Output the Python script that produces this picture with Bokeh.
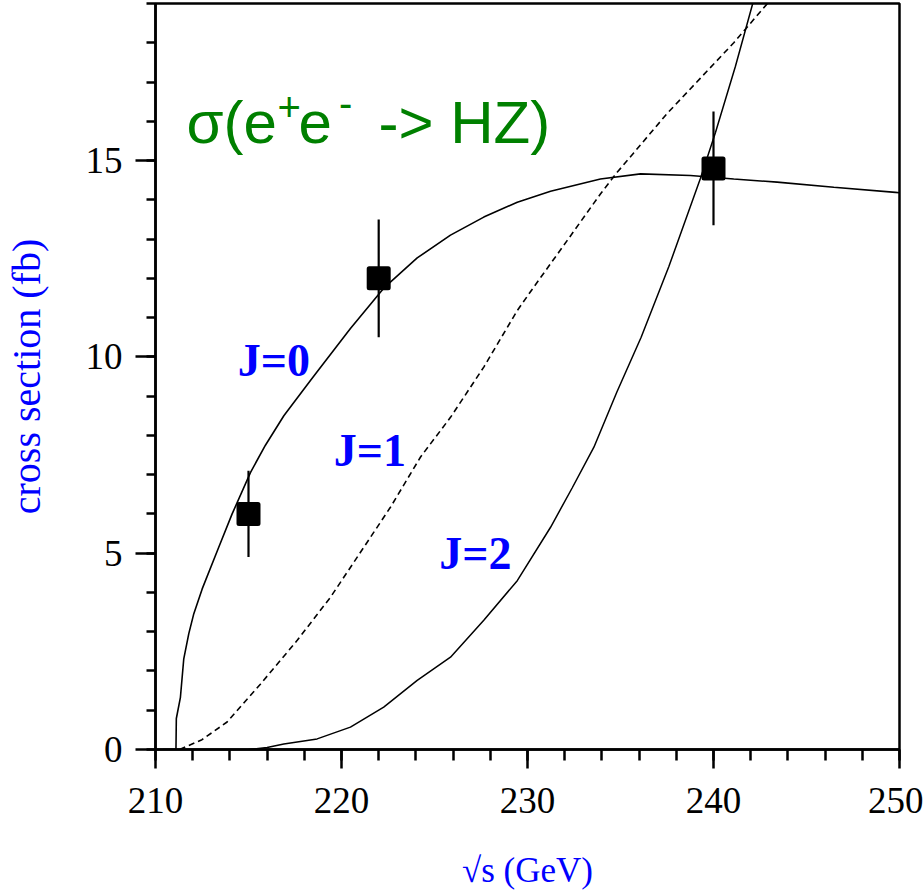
from bokeh.plotting import figure
from bokeh.models import Range1d, SingleIntervalTicker, ColumnDataSource
from bokeh.embed import file_html
from bokeh.resources import INLINE
from bokeh.core.properties import value

# ---- data ----
# measured cross sections (fb) at sqrt(s) (GeV)
pt_x = [215.0, 222.0, 240.0]
pt_y = [6.0, 12.0, 14.8]
pt_err = [1.1, 1.5, 1.45]

# J=0 (solid)
j0_x = [210.4, 211.1, 211.12, 211.34, 211.52, 211.79, 212.06, 212.51, 213.40, 214.12,
        215.11, 215.91, 216.90, 218.33, 218.69, 220.48, 222.27, 224.07, 225.86,
        227.65, 229.45, 231.24, 233.92, 236.08, 238.76, 241.09, 243.42, 246.47,
        249.78, 250.0]
j0_y = [0.0, 0.0, 0.79, 1.33, 2.31, 2.95, 3.46, 4.09, 5.15, 6.00,
        7.06, 7.75, 8.50, 9.40, 9.62, 10.72, 11.75, 12.52, 13.10,
        13.56, 13.94, 14.22, 14.53, 14.66, 14.62, 14.53, 14.45, 14.32,
        14.19, 14.18]

# J=1 (dashed)
j1_x = [211.3, 212.5, 213.85, 215.65, 217.62, 219.41, 221.20, 222.63, 224.25,
        225.86, 227.65, 229.45, 230.34, 232.13, 233.92, 234.82, 235.72, 237.51,
        239.30, 241.09, 242.88, 243.5]
j1_y = [0.0, 0.25, 0.70, 1.67, 2.78, 3.88, 5.15, 6.17, 7.45,
        8.46, 9.74, 11.18, 11.78, 12.96, 14.15, 14.70, 15.20, 16.20,
        17.10, 18.00, 18.99, 19.3]

# J=2 (solid, thin)
j2_x = [215.0, 216.0, 216.90, 218.69, 220.48, 222.27, 224.07, 225.86, 227.65,
        229.45, 231.24, 232.40, 233.57, 234.80, 236.11, 237.60, 239.30, 240.11,
        241.18, 242.08, 242.4]
j2_y = [0.0, 0.05, 0.14, 0.27, 0.57, 1.08, 1.76, 2.35, 3.29,
        4.30, 5.66, 6.66, 7.70, 9.10, 10.50, 12.30, 14.55, 15.72,
        17.40, 18.95, 19.5]

j_labels = ["J=0", "J=1", "J=2"]
j_lab_x = [216.36, 221.52, 227.20]
j_lab_y = [9.91, 7.62, 4.99]

x_ticks_interval = 10
y_ticks_interval = 5

# ---- figure ----
p = figure(width=923, height=893, output_backend="svg", toolbar_location=None,
           x_range=Range1d(210, 250), y_range=Range1d(0, 19),
           min_border_left=155, min_border_right=24, min_border_top=3,
           min_border_bottom=144)
p.xgrid.visible = False
p.ygrid.visible = False
p.outline_line_color = "black"
p.outline_line_width = 2.5
p.background_fill_color = "white"
p.border_fill_color = "white"

p.xaxis.ticker = SingleIntervalTicker(interval=x_ticks_interval, num_minor_ticks=5)
p.yaxis.ticker = SingleIntervalTicker(interval=y_ticks_interval, num_minor_ticks=5)

for ax in (p.xaxis[0], p.yaxis[0]):
    ax.axis_line_width = 2.5
    ax.axis_line_color = "black"
    ax.major_tick_line_width = 2.5
    ax.minor_tick_line_width = 2.5
    ax.major_tick_line_color = "black"
    ax.minor_tick_line_color = "black"
    ax.major_tick_in = 0
    ax.minor_tick_in = 0
    ax.major_label_text_font = "Liberation Serif"
    ax.major_label_text_font_size = "37px"
    ax.major_label_text_color = "black"
    ax.axis_label_text_font = "Liberation Serif"
    ax.axis_label_text_font_style = "normal"
    ax.axis_label_text_color = "blue"

p.xaxis.major_tick_out = 19
p.xaxis.minor_tick_out = 11
p.yaxis.major_tick_out = 20
p.yaxis.minor_tick_out = 9
p.xaxis.major_label_standoff = 19
p.yaxis.major_label_standoff = 13

p.xaxis.axis_label = "\u221as (GeV)"
p.xaxis.axis_label_text_font_size = "35px"
p.xaxis.axis_label_standoff = 35

p.yaxis.axis_label = "cross section (fb)"
p.yaxis.axis_label_text_font_size = "40px"
p.yaxis.axis_label_standoff = 34

# curves
p.line(j0_x, j0_y, line_color="black", line_width=1.6)
p.line(j1_x, j1_y, line_color="black", line_width=1.6, line_dash="6 4")
p.line(j2_x, j2_y, line_color="black", line_width=1.5)

# data points with error bars
lo = [y - e for y, e in zip(pt_y, pt_err)]
hi = [y + e for y, e in zip(pt_y, pt_err)]
p.segment(x0=pt_x, y0=lo, x1=pt_x, y1=hi, line_color="black", line_width=2.2)
p.scatter(pt_x, pt_y, marker="square", size=19, fill_color="black",
          line_color="black", line_width=5, line_join="round")

# J labels
src = ColumnDataSource(dict(x=j_lab_x, y=j_lab_y, t=j_labels))
p.text(x="x", y="y", text="t", source=src, text_font=value("Liberation Serif"),
       text_font_size="46px", text_font_style="bold", text_color="blue",
       text_align="center", text_baseline="middle")

# title annotation  sigma(e+e- -> HZ)
green = "#008000"
t_txt = ["\u03c3(e", "+", "e", "-", "-> HZ)"]
t_x = [211.67, 216.56, 217.69, 219.87, 221.99]
t_y = [15.98, 16.36, 15.98, 16.47, 15.98]
t_fs = ["60px", "40px", "60px", "40px", "60px"]
tsrc = ColumnDataSource(dict(x=t_x, y=t_y, t=t_txt, fs=t_fs))
p.text(x="x", y="y", text="t", source=tsrc, text_font=value("Liberation Sans"),
       text_font_size="fs", text_color=green, text_align="left",
       text_baseline="alphabetic")

open("out.html", "w").write(file_html(p, INLINE))
